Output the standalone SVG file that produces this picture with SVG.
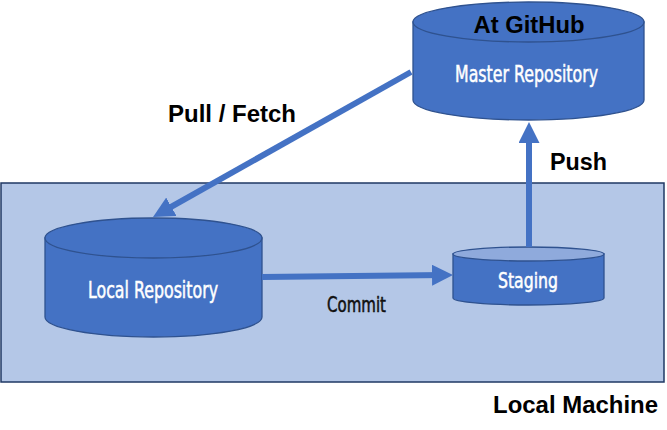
<svg xmlns="http://www.w3.org/2000/svg" width="667" height="430" viewBox="0 0 667 430">
<style>
.cyl{fill:#4472C4;stroke:#2F528F;stroke-width:1.3}
.cyltop-light{fill:#8FAADC;stroke:#2F528F;stroke-width:1.3}
.lbl{font-family:"DejaVu Sans Condensed","Liberation Sans Narrow","Roboto",sans-serif;fill:#FFFFFF;stroke:#FFFFFF;stroke-width:0.5}
.lbl-dark{font-family:"DejaVu Sans Condensed","Liberation Sans Narrow","Roboto",sans-serif;fill:#111111;stroke:#111111;stroke-width:0.5}
.bold{font-family:"Liberation Sans",Arial,sans-serif;font-weight:bold;font-size:23px;fill:#000000}
.conn{stroke:#4472C4;stroke-width:6;fill:none}
</style>
<defs>
<marker id="arrow" viewBox="0 0 21 21" refX="13" refY="10.5" markerWidth="21" markerHeight="21" markerUnits="userSpaceOnUse" orient="auto">
<path d="M0,0 L21,10.5 L0,21 Z" fill="#4472C4"/>
</marker>
</defs>
<rect width="667" height="430" fill="#FFFFFF"/>
<g id="local-machine">
<rect x="1" y="183" width="663" height="199" fill="#B4C7E7" stroke="#1F3864" stroke-width="1.5"/>
<text class="bold" x="658" y="413" text-anchor="end" textLength="165" lengthAdjust="spacingAndGlyphs">Local Machine</text>
</g>
<g id="master-repository">
<path class="cyl" d="M413,22 L413,100 A115.5,20 0 0 0 644,100 L644,22 Z"/>
<ellipse class="cyl" cx="528.5" cy="22" rx="115.5" ry="20"/>
<text class="bold" x="529" y="33" text-anchor="middle" textLength="111" lengthAdjust="spacingAndGlyphs">At GitHub</text>
<text class="lbl" x="526.5" y="82" font-size="23" text-anchor="middle" textLength="143" lengthAdjust="spacingAndGlyphs">Master Repository</text>
</g>
<g id="local-repository">
<path class="cyl" d="M45,238 L45,317 A108.5,20 0 0 0 262,317 L262,238 Z"/>
<ellipse class="cyl" cx="153.5" cy="238" rx="108.5" ry="20"/>
<text class="lbl" x="153" y="298" font-size="23" text-anchor="middle" textLength="130" lengthAdjust="spacingAndGlyphs">Local Repository</text>
</g>
<g id="staging">
<path class="cyl" d="M453,254 L453,298 A75.5,7 0 0 0 604,298 L604,254 Z"/>
<ellipse class="cyltop-light" cx="528.5" cy="254" rx="75.5" ry="7"/>
<text class="lbl" x="528" y="288" font-size="20.5" text-anchor="middle" textLength="60" lengthAdjust="spacingAndGlyphs">Staging</text>
</g>
<g id="connectors">
<line class="conn" x1="411" y1="72" x2="160" y2="213.1" marker-end="url(#arrow)"/>
<line class="conn" x1="262" y1="277" x2="445" y2="275" marker-end="url(#arrow)"/>
<line class="conn" x1="529" y1="247" x2="529" y2="130" marker-end="url(#arrow)"/>
<text class="bold" x="168" y="122" textLength="128" lengthAdjust="spacingAndGlyphs">Pull / Fetch</text>
<text class="bold" x="550" y="170" textLength="57" lengthAdjust="spacingAndGlyphs">Push</text>
<text class="lbl-dark" x="327" y="312" font-size="20.5" textLength="59" lengthAdjust="spacingAndGlyphs">Commit</text>
</g>
</svg>
